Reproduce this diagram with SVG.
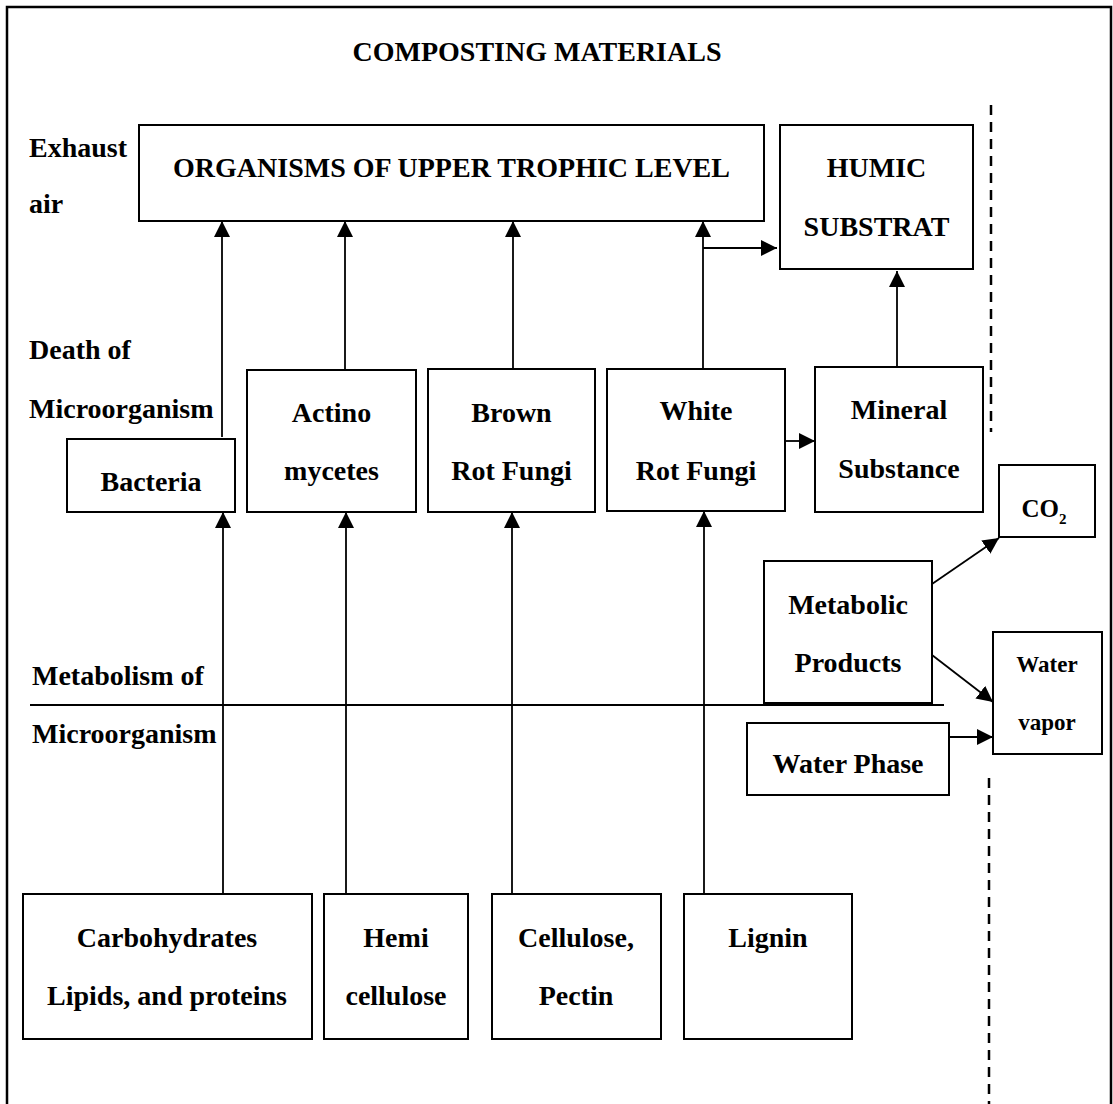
<svg xmlns="http://www.w3.org/2000/svg" width="1113" height="1104" viewBox="0 0 1113 1104">
<defs>
<style>
text{font-family:"Liberation Serif","Times New Roman",serif;font-weight:bold;font-size:28px;fill:#000}
.c{text-anchor:middle}
.box{fill:#fff;stroke:#000;stroke-width:2}
.ln{stroke:#000;stroke-width:1.8;fill:none}
.dash{stroke:#000;stroke-width:2.5;stroke-dasharray:10 7;fill:none}
</style>
<marker id="ah" viewBox="0 0 16 16" markerWidth="16" markerHeight="16" markerUnits="userSpaceOnUse" refX="16" refY="8" orient="auto">
<path d="M0,0 L16,8 L0,16 Z" fill="#000"/>
</marker>
</defs>
<rect width="1113" height="1104" fill="#fff"/>
<rect x="7" y="7" width="1104" height="1110" fill="none" stroke="#000" stroke-width="2.5"/>
<text class="c" x="537" y="61">COMPOSTING MATERIALS</text>
<g id="labels">
<text x="29" y="157">Exhaust</text>
<text x="29" y="213">air</text>
<text x="29" y="359">Death of</text>
<text x="29" y="418">Microorganism</text>
<text x="32" y="685">Metabolism of</text>
<text x="32" y="743">Microorganism</text>
</g>
<g id="separators">
<line class="dash" x1="991" y1="105" x2="991" y2="432"/>
<line class="dash" x1="989" y1="778" x2="989" y2="1104"/>
<line class="ln" x1="30" y1="705" x2="944" y2="705"/>
</g>
<g id="connectors">
<line class="ln" x1="222" y1="437" x2="222" y2="221" marker-end="url(#ah)"/>
<line class="ln" x1="345" y1="370" x2="345" y2="221" marker-end="url(#ah)"/>
<line class="ln" x1="513" y1="369" x2="513" y2="221" marker-end="url(#ah)"/>
<line class="ln" x1="703" y1="369" x2="703" y2="221" marker-end="url(#ah)"/>
<line class="ln" x1="703" y1="248" x2="777" y2="248" marker-end="url(#ah)"/>
<line class="ln" x1="897" y1="367" x2="897" y2="271" marker-end="url(#ah)"/>
<line class="ln" x1="785" y1="441" x2="815" y2="441" marker-end="url(#ah)"/>
<line class="ln" x1="223" y1="894" x2="223" y2="512" marker-end="url(#ah)"/>
<line class="ln" x1="346" y1="894" x2="346" y2="512" marker-end="url(#ah)"/>
<line class="ln" x1="512" y1="894" x2="512" y2="512" marker-end="url(#ah)"/>
<line class="ln" x1="704" y1="894" x2="704" y2="511" marker-end="url(#ah)"/>
<line class="ln" x1="932" y1="584" x2="999" y2="538" marker-end="url(#ah)"/>
<line class="ln" x1="932" y1="655" x2="993" y2="702" marker-end="url(#ah)"/>
<line class="ln" x1="949" y1="737" x2="993" y2="737" marker-end="url(#ah)"/>
</g>
<g id="organisms">
<rect class="box" x="139" y="125" width="625" height="96"/>
<text class="c" x="451.5" y="177">ORGANISMS OF UPPER TROPHIC LEVEL</text>
</g>
<g id="humic">
<rect class="box" x="780" y="125" width="193" height="144"/>
<text class="c" x="876.5" y="177">HUMIC</text>
<text class="c" x="876.5" y="236">SUBSTRAT</text>
</g>
<g id="bacteria">
<rect class="box" x="67" y="439" width="168" height="73"/>
<text class="c" x="151" y="491">Bacteria</text>
</g>
<g id="actinomycetes">
<rect class="box" x="247" y="370" width="169" height="142"/>
<text class="c" x="331.5" y="422">Actino</text>
<text class="c" x="331.5" y="480">mycetes</text>
</g>
<g id="brown-rot">
<rect class="box" x="428" y="369" width="167" height="143"/>
<text class="c" x="511.5" y="422">Brown</text>
<text class="c" x="511.5" y="480">Rot Fungi</text>
</g>
<g id="white-rot">
<rect class="box" x="607" y="369" width="178" height="142"/>
<text class="c" x="696" y="420">White</text>
<text class="c" x="696" y="480">Rot Fungi</text>
</g>
<g id="mineral">
<rect class="box" x="815" y="367" width="168" height="145"/>
<text class="c" x="899" y="419">Mineral</text>
<text class="c" x="899" y="478">Substance</text>
</g>
<g id="co2">
<rect class="box" x="999" y="465" width="96" height="72"/>
<text class="c" x="1044" y="517" style="font-size:25px">CO<tspan style="font-size:15px" dy="7">2</tspan></text>
</g>
<g id="metabolic">
<rect class="box" x="764" y="561" width="168" height="142"/>
<text class="c" x="848" y="614">Metabolic</text>
<text class="c" x="848" y="672">Products</text>
</g>
<g id="water-vapor">
<rect class="box" x="993" y="632" width="109" height="122"/>
<text class="c" x="1047" y="672" style="font-size:23px">Water</text>
<text class="c" x="1047" y="730" style="font-size:23px">vapor</text>
</g>
<g id="water-phase">
<rect class="box" x="747" y="723" width="202" height="72"/>
<text class="c" x="848" y="773">Water Phase</text>
</g>
<g id="carbohydrates">
<rect class="box" x="23" y="894" width="289" height="145"/>
<text class="c" x="167" y="947">Carbohydrates</text>
<text class="c" x="167" y="1005">Lipids, and proteins</text>
</g>
<g id="hemicellulose">
<rect class="box" x="324" y="894" width="144" height="145"/>
<text class="c" x="396" y="947">Hemi</text>
<text class="c" x="396" y="1005">cellulose</text>
</g>
<g id="cellulose">
<rect class="box" x="492" y="894" width="169" height="145"/>
<text class="c" x="576" y="947">Cellulose,</text>
<text class="c" x="576" y="1005">Pectin</text>
</g>
<g id="lignin">
<rect class="box" x="684" y="894" width="168" height="145"/>
<text class="c" x="768" y="947">Lignin</text>
</g>
</svg>
